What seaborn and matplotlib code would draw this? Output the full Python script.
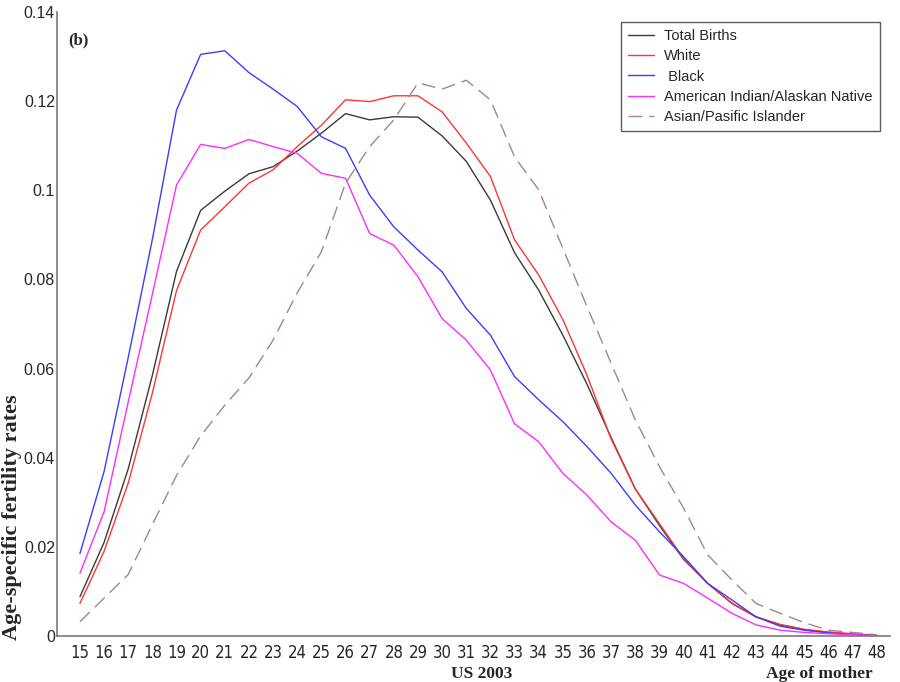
import numpy as np
import pandas as pd
import matplotlib
matplotlib.use("Agg")
import matplotlib.pyplot as plt
import seaborn as sns
from matplotlib.lines import Line2D

ages = list(range(15, 49))

total_births = [0.0088, 0.0210, 0.0375, 0.0585, 0.0818, 0.0955, 0.0998, 0.1037, 0.1053, 0.1088,
                0.1128, 0.1172, 0.1158, 0.1165, 0.1164, 0.1122, 0.1065, 0.0978, 0.0860, 0.0776,
                0.0675, 0.0565, 0.0445, 0.0330, 0.0248, 0.0172, 0.0118, 0.0073, 0.0043, 0.0025,
                0.0014, 0.0008, 0.0004, 0.0001]
white = [0.0073, 0.0190, 0.0343, 0.0545, 0.0775, 0.0911, 0.0963, 0.1016, 0.1046, 0.1098,
         0.1146, 0.1203, 0.1199, 0.1212, 0.1212, 0.1176, 0.1106, 0.1031, 0.0889, 0.0810,
         0.0710, 0.0585, 0.0442, 0.0330, 0.0252, 0.0174, 0.0118, 0.0074, 0.0043, 0.0026,
         0.0015, 0.0009, 0.0005, 0.0001]
black = [0.0185, 0.0369, 0.0625, 0.0890, 0.1180, 0.1305, 0.1313, 0.1264, 0.1227, 0.1188,
         0.1120, 0.1094, 0.0989, 0.0918, 0.0866, 0.0817, 0.0735, 0.0675, 0.0582, 0.0530,
         0.0481, 0.0425, 0.0365, 0.0294, 0.0234, 0.0178, 0.0118, 0.0081, 0.0043, 0.0022,
         0.0013, 0.0007, 0.0003, 0.0001]
am_indian = [0.0141, 0.0279, 0.0525, 0.0767, 0.1012, 0.1103, 0.1094, 0.1114, 0.1098, 0.1083,
             0.1038, 0.1027, 0.0903, 0.0877, 0.0806, 0.0712, 0.0664, 0.0597, 0.0476, 0.0436,
             0.0365, 0.0316, 0.0256, 0.0215, 0.0137, 0.0118, 0.0085, 0.0051, 0.0025, 0.0013,
             0.0008, 0.0005, 0.0003, 0.0001]
asian = [0.0032, 0.0085, 0.0138, 0.0250, 0.0360, 0.0449, 0.0518, 0.0579, 0.0664, 0.0770,
         0.0862, 0.1016, 0.1098, 0.1158, 0.1241, 0.1227, 0.1247, 0.1203, 0.1075, 0.1001,
         0.0870, 0.0739, 0.0612, 0.0485, 0.0380, 0.0287, 0.0182, 0.0126, 0.0073, 0.0051,
         0.0030, 0.0013, 0.0008, 0.0003]

series_names = ["Total Births", "White", " Black",
                "American Indian/Alaskan Native", "Asian/Pasific Islander"]
series_values = [total_births, white, black, am_indian, asian]
y_ticks = [0, 0.02, 0.04, 0.06, 0.08, 0.1, 0.12, 0.14]
y_tick_labels = ["0", "0.02", "0.04", "0.06", "0.08", "0.1", "0.12", "0.14"]

df = pd.DataFrame({
    "age": np.tile(ages, len(series_names)),
    "rate": np.concatenate(series_values),
    "group": np.repeat(series_names, len(ages)),
})

sns.set_style("white")
plt.rcParams["font.family"] = ["Liberation Sans", "DejaVu Sans"]

palette = {
    "Total Births": "#3a3a3a",
    "White": "#ff3535",
    " Black": "#3c3cff",
    "American Indian/Alaskan Native": "#ff2cff",
    "Asian/Pasific Islander": "#a88484",
}
dashes = {
    "Total Births": "",
    "White": "",
    " Black": "",
    "American Indian/Alaskan Native": "",
    "Asian/Pasific Islander": (10, 5),
}

fig = plt.figure(figsize=(9, 6.82), dpi=100)
ax = fig.add_axes([57 / 900, 1 - 636 / 682, (890 - 57) / 900, (636 - 12) / 682])

sns.lineplot(data=df, x="age", y="rate", hue="group", style="group",
             palette=palette, dashes=dashes, hue_order=series_names,
             style_order=series_names, linewidth=1.0, ax=ax, legend=False)

ax.set_xlim(14.05, 48.55)
ax.set_ylim(0, 0.14)
ax.set_xticks(ages)
ax.set_xticklabels([str(a) for a in ages], fontfamily=["DejaVu Sans"],
                   fontstretch="condensed", fontsize=12)
ax.set_yticks(y_ticks)
ax.set_yticklabels(y_tick_labels, fontsize=11.5)

for s in ["top", "right"]:
    ax.spines[s].set_visible(False)
for s in ["left", "bottom"]:
    ax.spines[s].set_color("#7a7a7a")
    ax.spines[s].set_linewidth(1.2)

ax.tick_params(axis="x", direction="in", length=3, color="#7a7a7a", pad=6)
ax.tick_params(axis="y", length=0, pad=1.5)

ax.set_xlabel("US 2003", fontfamily=["Liberation Serif"], fontweight="bold",
              fontsize=12.5)
ax.xaxis.set_label_coords((482 - 57) / 833, -0.0475)
ax.xaxis.label.set_verticalalignment("top")
ax.set_ylabel("Age-specific fertility rates", fontfamily=["Liberation Serif"],
              fontweight="bold", fontsize=16)
ax.yaxis.set_label_coords((22 - 57) / 833, 0.19)

ax.text(0.915, -0.0475, "Age of mother", transform=ax.transAxes,
        fontfamily=["Liberation Serif"], fontweight="bold", fontsize=12.5,
        ha="center", va="top")
ax.text(0.013, 0.955, "(b)", transform=ax.transAxes,
        fontfamily=["Liberation Serif"], fontweight="bold", fontsize=12,
        ha="left", va="center")

handles = [Line2D([0], [0], color=palette[n],
                  linestyle=(0, dashes[n]) if dashes[n] else "-", linewidth=1.0)
           for n in series_names]
leg = ax.legend(handles, series_names, loc="upper right",
                bbox_to_anchor=(880 / 900, 1 - 22 / 682), bbox_transform=fig.transFigure,
                borderaxespad=0, fontsize=10.5, frameon=True, fancybox=False,
                handlelength=1.75, handletextpad=0.7, labelspacing=0.42,
                borderpad=0.5)
leg.get_frame().set_edgecolor("#333333")
leg.get_frame().set_linewidth(1.0)

fig.savefig("out.png", dpi=100)
